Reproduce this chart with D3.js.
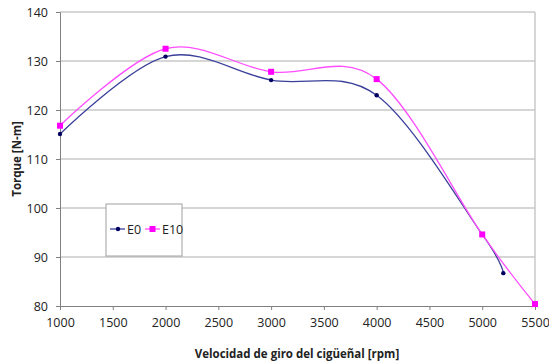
<!DOCTYPE html>
<html>
<head>
<meta charset="utf-8">
<script src="https://cdn.jsdelivr.net/npm/d3@7"></script>
<style>
body { margin: 0; background: #fff; }
text { font-family: "Open Sans", "Liberation Sans", sans-serif; fill: #222; }
</style>
</head>
<body>
<svg id="chart" width="549" height="363"></svg>
<script>
// valores
const rpm_e0 = [1000, 2000, 3000, 4000, 5000, 5200];
const torque_e0 = [115.1, 130.9, 126.1, 123.0, 94.6, 86.7];
const rpm_e10 = [1000, 2000, 3000, 4000, 5000, 5500];
const torque_e10 = [116.8, 132.5, 127.8, 126.3, 94.6, 80.4];
const x_ticks = [1000, 1500, 2000, 2500, 3000, 3500, 4000, 4500, 5000, 5500];
const y_ticks = [80, 90, 100, 110, 120, 130, 140];

const series = [
	{name: "E0", color: "#3a3f9a", marker: "#000060", size: 4, x: rpm_e0, y: torque_e0},
	{name: "E10", color: "#ff4dff", marker: "#ff00ff", size: 6, x: rpm_e10, y: torque_e10}
];

const svg = d3.select("#chart");
const plot_l = 60, plot_r = 535, plot_t = 12, plot_b = 306;

const x = d3.scaleLinear().domain([1000, 5500]).range([plot_l, plot_r]);
const y = d3.scaleLinear().domain([80, 140]).range([plot_b, plot_t]);

// rejilla
svg.append("g").selectAll("line").data(y_ticks.slice(1)).enter()
	.append("line")
	.attr("x1", plot_l).attr("x2", plot_r)
	.attr("y1", d => y(d)).attr("y2", d => y(d))
	.style("stroke", "#c8c8c8").style("stroke-width", 1.3);
svg.append("line")
	.attr("x1", plot_r).attr("x2", plot_r).attr("y1", plot_t).attr("y2", plot_b)
	.style("stroke", "#c8c8c8").style("stroke-width", 1.5);

const x_axis = svg.append("g").attr("transform", `translate(0,${plot_b})`)
	.call(d3.axisBottom(x).tickValues(x_ticks).tickSize(4).tickPadding(8).tickFormat(d3.format("d")));
const y_axis = svg.append("g").attr("transform", `translate(${plot_l},0)`)
	.call(d3.axisLeft(y).tickValues(y_ticks).tickSize(4).tickPadding(8));
[x_axis, y_axis].forEach(a => {
	a.select(".domain").style("stroke", "#808080");
	a.selectAll(".tick line").style("stroke", "#808080");
	a.selectAll("text").style("font-size", "12.5px").style("font-family", "'Open Sans', sans-serif").style("fill", "#222");
});

// curvas
const line = d3.line().curve(d3.curveCatmullRom.alpha(0));
series.forEach(s => {
	const pts = s.x.map((v, i) => [x(v), y(s.y[i])]);
	svg.append("path").attr("d", line(pts))
		.style("fill", "none").style("stroke", s.color).style("stroke-width", 1.3);
});
series.forEach(s => {
	const g = svg.append("g");
	s.x.forEach((v, i) => {
		if (s.name === "E0") {
			g.append("circle").attr("cx", x(v)).attr("cy", y(s.y[i])).attr("r", 2.2).style("fill", s.marker);
		} else {
			g.append("rect").attr("x", x(v) - s.size / 2).attr("y", y(s.y[i]) - s.size / 2)
				.attr("width", s.size).attr("height", s.size).style("fill", s.marker);
		}
	});
});

// titulos de ejes
svg.append("text").attr("x", 297).attr("y", 358).attr("text-anchor", "middle")
	.style("font-size", "11.5px").style("font-weight", "bold")
	.text("Velocidad de giro del cigüeñal [rpm]");
svg.append("text").attr("transform", "translate(21,159) rotate(-90)").attr("text-anchor", "middle")
	.style("font-size", "11.5px").style("font-weight", "bold")
	.text("Torque [N-m]");

// leyenda
const lg = svg.append("g").attr("transform", "translate(106,204)");
lg.append("rect").attr("width", 76).attr("height", 52)
	.style("fill", "#fff").style("stroke", "#a0a0a0").style("stroke-width", 1);
series.forEach((s, i) => {
	const ox = 4 + i * 35;
	lg.append("line").attr("x1", ox).attr("x2", ox + 15).attr("y1", 25).attr("y2", 25)
		.style("stroke", s.color).style("stroke-width", 1.3);
	if (s.name === "E0") {
		lg.append("circle").attr("cx", ox + 8).attr("cy", 25).attr("r", 2.2).style("fill", s.marker);
	} else {
		lg.append("rect").attr("x", ox + 7.5 - 3).attr("y", 22).attr("width", 6).attr("height", 6).style("fill", s.marker);
	}
	lg.append("text").attr("x", ox + 17).attr("y", 29.5).style("font-size", "12.5px").text(s.name);
});
</script>
</body>
</html>
